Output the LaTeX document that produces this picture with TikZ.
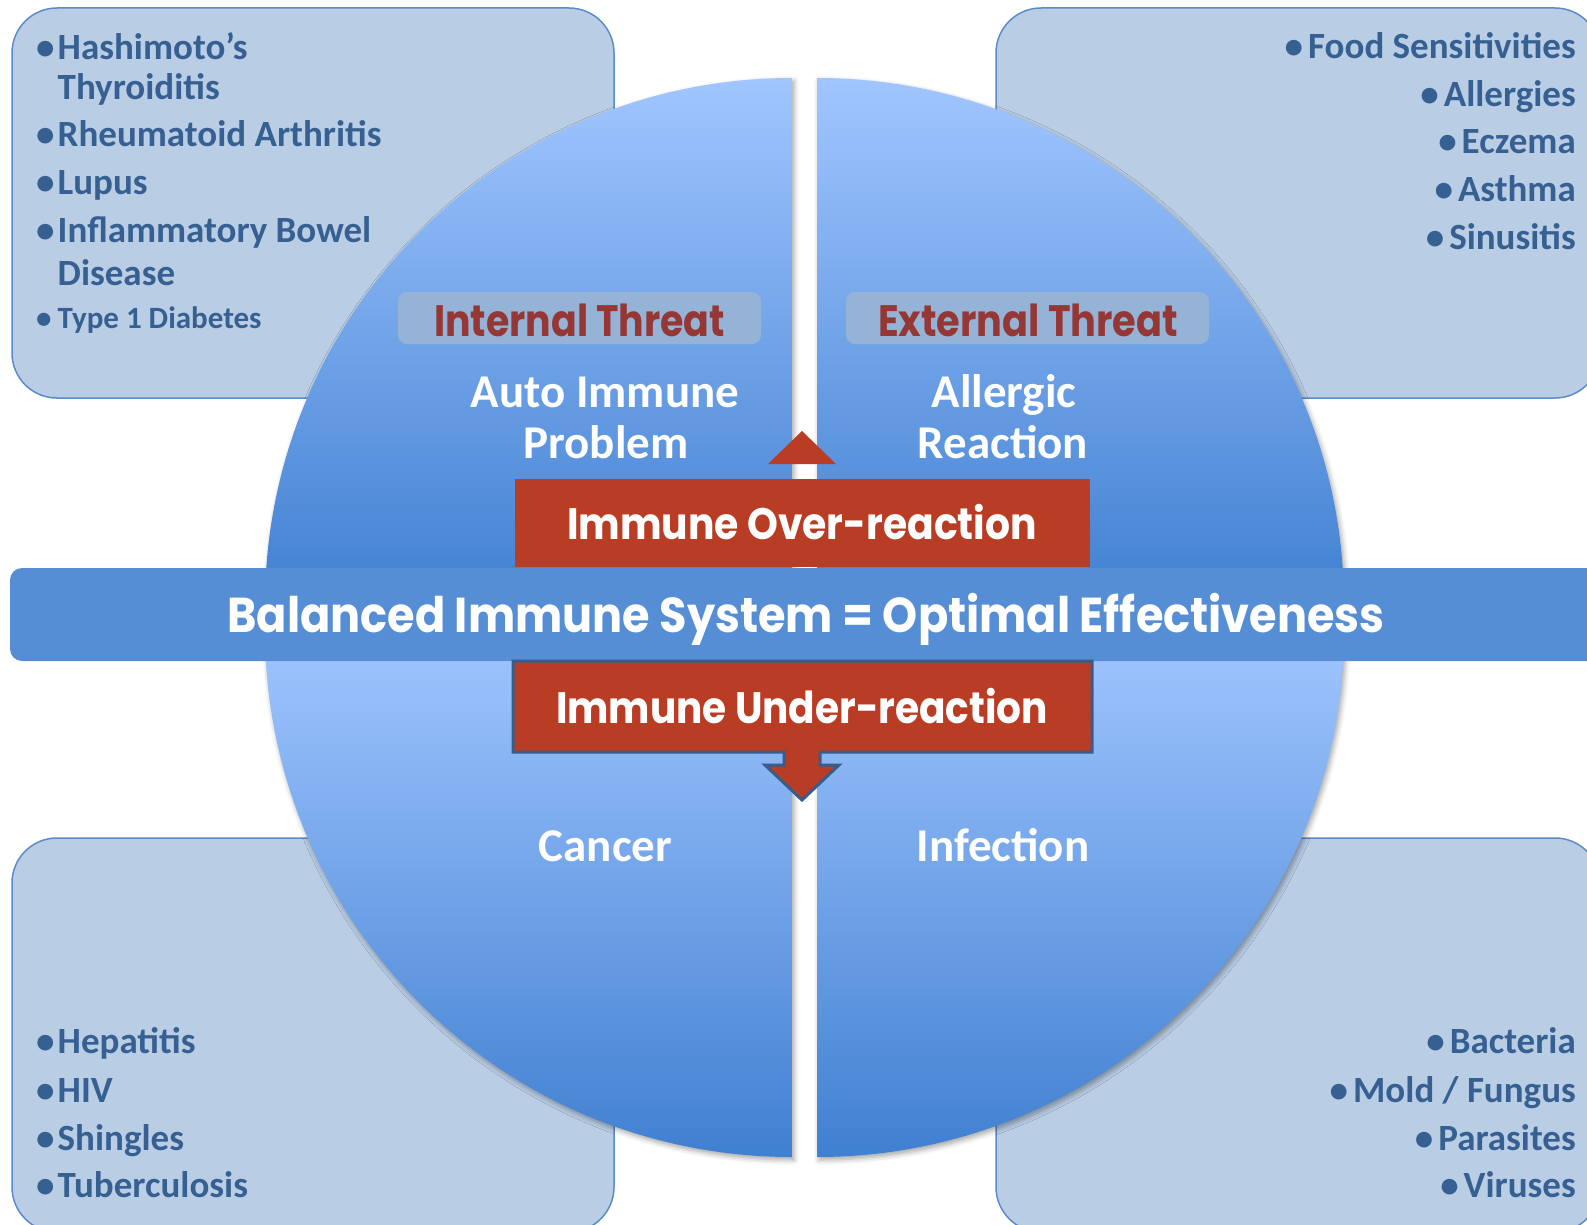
\documentclass[tikz,border=0pt]{standalone}
\usepackage{fontspec}
\usepackage{graphicx}
\setmainfont{Carlito}
\newfontfamily\gothic{Poppins}
\usetikzlibrary{shadows.blur}

\definecolor{boxfill}{HTML}{B9CDE5}
\definecolor{boxline}{HTML}{5B8BC9}
\definecolor{itemblue}{HTML}{376092}
\definecolor{qtop}{HTML}{A1C6FF}
\definecolor{qbot}{HTML}{4080D1}
\definecolor{bandblue}{HTML}{558ED5}
\definecolor{labelfill}{HTML}{95B3D7}
\definecolor{threatred}{HTML}{953735}
\definecolor{arrowred}{HTML}{B93C24}
\definecolor{arrowline}{HTML}{385D8A}

% set #2 in the current font and stretch it horizontally to #1 pt
\newlength\fitlen
\newcommand\fitwidth[2]{\settowidth\fitlen{#2}\pgfmathsetmacro\fitfac{#1/\fitlen}\scalebox{\fitfac}[1]{#2}}
\newcommand\bul{\makebox[21.5pt][l]{•}}

\begin{document}
\begin{tikzpicture}[x=1pt,y=-1pt,
  listbox/.style={fill=boxfill, draw=boxline, line width=1.5pt, rounded corners=45pt},
  quarter/.style={top color=qtop, bottom color=qbot,
    blur shadow={shadow xshift=2pt, shadow yshift=-3pt, shadow blur radius=5pt, shadow opacity=35}},
  item/.style={font=\fontsize{37}{40}\selectfont\bfseries, text=itemblue, inner sep=0pt},
  smallitem/.style={font=\fontsize{31}{34}\selectfont\bfseries, text=itemblue, inner sep=0pt},
  quartxt/.style={font=\fontsize{47}{50}\selectfont\bfseries, text=white, inner sep=0pt, anchor=base},
  goth/.style={font=\fontsize{44}{48}\selectfont\gothic\bfseries, inner sep=0pt, anchor=base},
  threatbox/.style={fill=labelfill, rounded corners=9pt},
  redshape/.style={fill=arrowred}
]
\useasboundingbox (0,0) rectangle (1587,1225);
\clip (0,0) rectangle (1587,1225);

% four rounded boxes holding the lists
\draw[listbox] (12,8) rectangle (614,398);
\draw[listbox] (996,8) rectangle (1600,398);
\draw[listbox] (12,838) rectangle (614,1232);
\draw[listbox] (996,838) rectangle (1600,1232);

% the circle, cut into four quarters
\path[quarter] (792,605) -- (265,605) arc[start angle=180, end angle=270, radius=527] -- cycle;
\path[quarter] (817,605) -- (817,78) arc[start angle=270, end angle=360, radius=527] -- cycle;
\path[quarter] (792,630) -- (265,630) arc[start angle=180, end angle=90, radius=527] -- cycle;
\path[quarter] (817,630) -- (1344,630) arc[start angle=0, end angle=90, radius=527] -- cycle;

% list items
\node[item, anchor=base west] (hash) at (36,60) {\bul Hashimoto’s};
\node[item, anchor=base west] (thyr) at (57.5,100) {Thyroiditis};
\node[item, anchor=base west] (rheu) at (36,147) {\bul Rheumatoid Arthritis};
\node[item, anchor=base west] (lupus) at (36,195) {\bul Lupus};
\node[item, anchor=base west] (ibd) at (36,243) {\bul Inflammatory Bowel};
\node[item, anchor=base west] (dis) at (57.5,285) {Disease};
\node[smallitem, anchor=base west] (t1d) at (36,328) {\makebox[21.5pt][l]{•}Type 1 Diabetes};

\node[item, anchor=base east] (food) at (1576,59) {•\hspace{5pt}Food Sensitivities};
\node[item, anchor=base east] (allg) at (1576,107) {•\hspace{5pt}Allergies};
\node[item, anchor=base east] (ecz) at (1576,154) {•\hspace{5pt}Eczema};
\node[item, anchor=base east] (asth) at (1576,202) {•\hspace{5pt}Asthma};
\node[item, anchor=base east] (sinu) at (1576,249) {•\hspace{5pt}Sinusitis};

\node[item, anchor=base west] (hep) at (36,1053) {\bul Hepatitis};
\node[item, anchor=base west] (hiv) at (36,1102) {\bul HIV};
\node[item, anchor=base west] (shin) at (36,1150) {\bul Shingles};
\node[item, anchor=base west] (tb) at (36,1197) {\bul Tuberculosis};

\node[item, anchor=base east] (bact) at (1576,1053) {•\hspace{5pt}Bacteria};
\node[item, anchor=base east] (mold) at (1576,1102) {•\hspace{5pt}Mold / Fungus};
\node[item, anchor=base east] (para) at (1576,1150) {•\hspace{5pt}Parasites};
\node[item, anchor=base east] (vir) at (1576,1197) {•\hspace{5pt}Viruses};

% threat labels
\path[threatbox] (398,292) rectangle (761,344);
\path[threatbox] (846,292) rectangle (1209,344);
\node[goth, text=threatred] (internal) at (579.5,336) {\fitwidth{291}{Internal Threat}};
\node[goth, text=threatred] (external) at (1028,336) {\fitwidth{300}{External Threat}};

% quarter captions
\node[quartxt] (auto) at (605,407) {Auto Immune};
\node[quartxt] (prob) at (606,458) {Problem};
\node[quartxt] (allergic) at (1004,407) {Allergic};
\node[quartxt] (reaction) at (1003,458) {Reaction};
\node[quartxt] (cancer) at (605.5,861) {Cancer};
\node[quartxt] (infection) at (1003,861) {Infection};

% over-reaction arrow
\path[redshape] (768,464) -- (802,431) -- (836,464) -- cycle;
\path[redshape] (515,479) rectangle (1090,567);
\node[goth, text=white] (over) at (802,539) {\fitwidth{470}{Immune Over-reaction}};

% central band
\path[fill=bandblue, rounded corners=12pt] (10,568) rectangle (1620,661);
\node[goth, text=white, font=\fontsize{49}{52}\selectfont\gothic\bfseries] (balanced) at (806,632)
  {\fitwidth{1157}{Balanced Immune System = Optimal Effectiveness}};

% under-reaction arrow
\draw[redshape, draw=arrowline, line width=3pt, line join=miter]
  (513,661) -- (1092,661) -- (1092,752) -- (820,752) -- (820,765) -- (839,765)
  -- (802,800) -- (765,765) -- (784,765) -- (784,752) -- (513,752) -- cycle;
\node[goth, text=white] (under) at (802,723) {\fitwidth{492}{Immune Under-reaction}};
\end{tikzpicture}
\end{document}
